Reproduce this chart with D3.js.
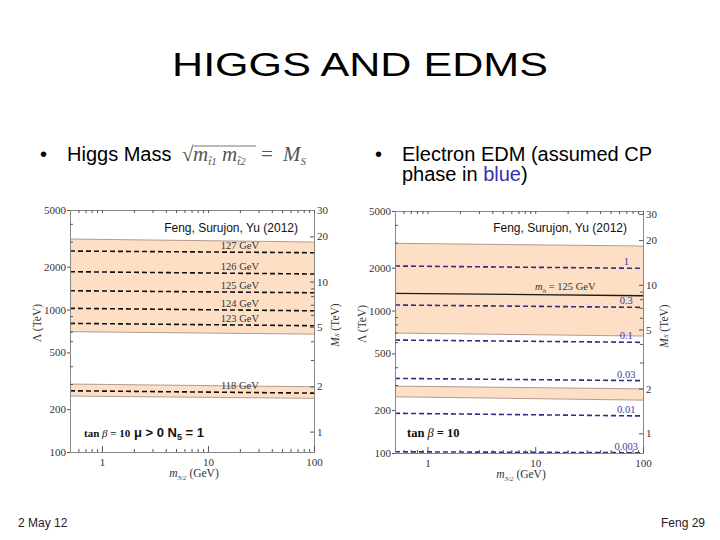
<!DOCTYPE html>
<html>
<head>
<meta charset="utf-8">
<script src="https://cdn.jsdelivr.net/npm/d3@7"></script>
<style>
  body { margin: 0; background: #fff; }
  svg { display: block; }
</style>
</head>
<body>
<div id="slide"></div>
<script>
// ---- values ----
const xDomain = [0.5, 100];              // m_3/2 (GeV)
const xTicks = [1, 10, 100];
const xMinor = [0.6, 0.7, 0.8, 0.9, 2, 3, 4, 5, 6, 7, 8, 9, 20, 30, 40, 50, 60, 70, 80, 90];
const lambdaDomain = [100, 5000];        // Lambda (TeV)
const lambdaTicks = [100, 200, 500, 1000, 2000, 5000];
const lambdaMinor = [300, 400, 600, 700, 800, 900, 3000, 4000];
const msTicks = [1, 2, 5, 10, 20, 30];   // M_S (TeV)
const msMinor = [3, 4, 6, 7, 8, 9];

// bands: [top @ m=0.5, top @ m=100, bottom @ m=0.5, bottom @ m=100]
const higgsBands = [[3128, 2981, 699, 672], [300, 287, 247, 238]];
const higgsNames = ['127 GeV', '126 GeV', '125 GeV', '124 GeV', '123 GeV', '118 GeV'];
const higgsStart = [2576, 1844, 1356, 1020, 800, 269];
const higgsEnd = [2506, 1777, 1312, 980, 770, 259];

const edmBands = [[2966, 2839, 695, 662], [295, 282, 248, 235]];
const edmNames = ['1', '0.3', '0.1', '0.03', '0.01', '0.003'];
const edmStart = [2055, 1094, 621, 334, 190, 102];
const edmEnd = [1979, 1053, 598, 322, 182, 100.4];
const mh125 = [1321, 1272];

const W = 720, H = 540;
const serif = '"Liberation Serif", "Times New Roman", serif';
const sans = '"Liberation Sans", Arial, sans-serif';

const svg = d3.select('#slide').append('svg')
  .attr('width', W)
  .attr('height', H);

// value on a straight log-log line between the two plot edges
function along(a, b, m) {
  let t = Math.log(m / xDomain[0]) / Math.log(xDomain[1] / xDomain[0]);
  return Math.exp(Math.log(a) + (Math.log(b) - Math.log(a)) * t);
}

function drawPanel(cfg) {
  let g = svg.append('g');

  let x = d3.scaleLog().domain(xDomain).range([cfg.left, cfg.right]);
  let y = d3.scaleLog().domain(lambdaDomain).range([cfg.bottom, cfg.top]);
  let ms = d3.scaleLog().domain(cfg.msDomain).range([cfg.bottom, cfg.top]);

  let line = d3.line().x(d => x(d[0])).y(d => y(d[1]));

  // shaded bands
  cfg.bands.forEach(b => {
    let pts = [[xDomain[0], b[0]], [xDomain[1], b[1]], [xDomain[1], b[3]], [xDomain[0], b[2]]];
    g.append('path')
      .attr('d', line(pts) + 'Z')
      .attr('fill', '#fddfc6');
    [[b[0], b[1]], [b[2], b[3]]].forEach(e => {
      g.append('path')
        .attr('d', line([[xDomain[0], e[0]], [xDomain[1], e[1]]]))
        .attr('fill', 'none')
        .attr('stroke', '#8a6a62')
        .attr('stroke-width', 0.8)
        .attr('opacity', 0.8);
    });
  });

  // contours
  cfg.names.forEach((name, i) => {
    g.append('path')
      .attr('d', line([[xDomain[0], cfg.start[i]], [xDomain[1], cfg.end[i]]]))
      .attr('fill', 'none')
      .attr('stroke', cfg.lineColor)
      .attr('stroke-width', 1.6)
      .attr('stroke-dasharray', '5,3');
    g.append('text')
      .attr('x', x(cfg.labelM))
      .attr('y', y(along(cfg.start[i], cfg.end[i], cfg.labelM)) - 3)
      .attr('text-anchor', 'middle')
      .style('font-family', serif)
      .style('font-size', '10.5px')
      .attr('fill', cfg.labelColor)
      .text(name);
  });

  if (cfg.solid) {
    g.append('path')
      .attr('d', line([[xDomain[0], cfg.solid[0]], [xDomain[1], cfg.solid[1]]]))
      .attr('fill', 'none')
      .attr('stroke', '#1a1a1a')
      .attr('stroke-width', 1.4);
    let t = g.append('text')
      .attr('x', x(19))
      .attr('y', y(along(cfg.solid[0], cfg.solid[1], 19)) - 5)
      .attr('text-anchor', 'middle')
      .style('font-family', serif)
      .style('font-size', '10.5px')
      .attr('fill', '#333');
    t.append('tspan').style('font-style', 'italic').text('m');
    t.append('tspan').attr('dy', 3).style('font-size', '7px').style('font-style', 'italic').text('h');
    t.append('tspan').attr('dy', -3).text(' = 125 GeV');
  }

  // frame + axes
  let axisColor = '#888';
  let left = g.append('g').attr('transform', `translate(${cfg.left},0)`)
    .call(d3.axisLeft(y).tickValues(lambdaTicks).tickFormat(d3.format('d')).tickSize(3).tickSizeOuter(0).tickPadding(1));
  g.append('g').attr('transform', `translate(${cfg.left},0)`)
    .call(d3.axisRight(y).tickValues(lambdaMinor).tickFormat('').tickSize(3).tickSizeOuter(0));
  let right = g.append('g').attr('transform', `translate(${cfg.right},0)`)
    .call(d3.axisRight(ms).tickValues(msTicks).tickFormat(d3.format('d')).tickSize(-4).tickSizeOuter(0).tickPadding(3));
  g.append('g').attr('transform', `translate(${cfg.right},0)`)
    .call(d3.axisLeft(ms).tickValues(msMinor).tickFormat('').tickSize(3).tickSizeOuter(0));
  let bottom = g.append('g').attr('transform', `translate(0,${cfg.bottom})`)
    .call(d3.axisBottom(x).tickValues(xTicks).tickFormat(d3.format('d')).tickSize(-6).tickSizeOuter(0).tickPadding(6));
  g.append('g').attr('transform', `translate(0,${cfg.bottom})`)
    .call(d3.axisTop(x).tickValues(xMinor).tickFormat('').tickSize(3).tickSizeOuter(0));
  g.append('g').attr('transform', `translate(0,${cfg.top})`)
    .call(d3.axisBottom(x).tickValues(xTicks.concat(xMinor)).tickFormat('').tickSize(3).tickSizeOuter(0));

  g.selectAll('.domain').attr('stroke', axisColor);
  g.selectAll('.tick line').attr('stroke', '#555');
  [left, right, bottom].forEach(a => a.selectAll('text')
    .style('font-family', serif)
    .style('font-size', '11px')
    .attr('fill', '#333'));

  // axis titles
  g.append('text')
    .attr('transform', `translate(${cfg.left - 29},${(cfg.top + cfg.bottom) / 2 - 8}) rotate(-90)`)
    .attr('text-anchor', 'middle')
    .style('font-family', serif)
    .style('font-size', '11.5px')
    .attr('fill', '#333')
    .text('\u039B (TeV)');

  let rt = g.append('text')
    .attr('transform', `translate(${cfg.right + 17},${(cfg.top + cfg.bottom) / 2 - 6}) rotate(-90)`)
    .attr('text-anchor', 'middle')
    .attr('dominant-baseline', 'hanging')
    .style('font-family', serif)
    .style('font-size', '11.5px')
    .attr('fill', '#333');
  rt.append('tspan').style('font-style', 'italic').text('M');
  rt.append('tspan').attr('dy', 3).style('font-size', '7px').style('font-style', 'italic').text('S');
  rt.append('tspan').attr('dy', -3).text(' (TeV)');

  let bt = g.append('text')
    .attr('x', (cfg.left + cfg.right) / 2 + 2)
    .attr('y', cfg.bottom + 25)
    .attr('text-anchor', 'middle')
    .style('font-family', serif)
    .style('font-size', '11.5px')
    .attr('fill', '#333');
  bt.append('tspan').style('font-style', 'italic').text('m');
  bt.append('tspan').attr('dy', 3).style('font-size', '7px').style('font-style', 'italic').text('3/2');
  bt.append('tspan').attr('dy', -3).text(' (GeV)');

  // annotations
  g.append('text')
    .attr('x', cfg.right - 16)
    .attr('y', 232)
    .attr('text-anchor', 'end')
    .style('font-family', sans)
    .style('font-size', '12px')
    .attr('fill', '#111')
    .text('Feng, Surujon, Yu (2012)');

  let tb = g.append('text')
    .attr('x', cfg.left + cfg.tanDx)
    .attr('y', 437)
    .attr('fill', '#111');
  tb.append('tspan').style('font-family', serif).style('font-weight', 'bold').style('font-size', cfg.tanSize)
    .text('tan ');
  tb.append('tspan').style('font-family', serif).style('font-style', 'italic').style('font-size', cfg.tanSize)
    .text('\u03B2');
  tb.append('tspan').style('font-family', serif).style('font-weight', 'bold').style('font-size', cfg.tanSize)
    .text(' = 10');
  if (cfg.extra) {
    tb.append('tspan').style('font-family', sans).style('font-weight', 'bold').style('font-size', '13px')
      .text('  \u03BC > 0  N');
    tb.append('tspan').attr('dy', 3).style('font-family', sans).style('font-weight', 'bold').style('font-size', '9px')
      .text('5');
    tb.append('tspan').attr('dy', -3).style('font-family', sans).style('font-weight', 'bold').style('font-size', '13px')
      .text(' = 1');
  }
}

drawPanel({
  left: 70, right: 314, top: 210, bottom: 452,
  msDomain: [0.731, 30],
  bands: higgsBands,
  names: higgsNames, start: higgsStart, end: higgsEnd,
  lineColor: '#111', labelColor: '#333', labelM: 20,
  tanDx: 14, tanSize: '11px', extra: true
});

drawPanel({
  left: 395, right: 643, top: 211, bottom: 453,
  msDomain: [0.737, 31.4],
  bands: edmBands,
  names: edmNames, start: edmStart, end: edmEnd,
  lineColor: '#2e2e8c', labelColor: '#3a3aaa', labelM: 70,
  solid: mh125,
  tanDx: 12, tanSize: '12.5px', extra: false
});

// ---- slide text ----
svg.append('text')
  .attr('x', 360)
  .attr('y', 76)
  .attr('text-anchor', 'middle')
  .attr('textLength', 376)
  .attr('lengthAdjust', 'spacingAndGlyphs')
  .style('font-family', sans)
  .style('font-size', '33px')
  .attr('fill', '#000')
  .text('HIGGS AND EDMS');

function bullet(xb, yb) {
  svg.append('text').attr('x', xb).attr('y', yb)
    .style('font-family', sans).style('font-size', '20px').text('\u2022');
}

bullet(40, 161);
svg.append('text')
  .attr('x', 67).attr('y', 161)
  .style('font-family', sans).style('font-size', '20px')
  .text('Higgs Mass');

// formula sqrt(m_t1 m_t2) = M_S
let f = svg.append('text')
  .attr('y', 161)
  .style('font-family', serif).style('font-size', '21px')
  .attr('fill', '#555');
f.append('tspan').attr('x', 182).text('\u221A');
f.append('tspan').attr('x', 193).style('font-style', 'italic').text('m');
f.append('tspan').attr('dy', 4).style('font-size', '11px').style('font-style', 'italic').text('t\u03031');
f.append('tspan').attr('x', 222).attr('dy', -4).style('font-style', 'italic').text('m');
f.append('tspan').attr('dy', 4).style('font-size', '11px').style('font-style', 'italic').text('t\u03032');
f.append('tspan').attr('x', 261).attr('dy', -4).text('=');
f.append('tspan').attr('x', 283).style('font-style', 'italic').text('M');
f.append('tspan').attr('dy', 4).style('font-size', '11px').style('font-style', 'italic').text('S');
svg.append('line')
  .attr('x1', 194).attr('x2', 256)
  .attr('y1', 146).attr('y2', 146)
  .attr('stroke', '#666').attr('stroke-width', 0.9);

bullet(375, 161);
svg.append('text')
  .attr('x', 402).attr('y', 161)
  .style('font-family', sans).style('font-size', '20px')
  .text('Electron EDM (assumed CP');
let l2 = svg.append('text')
  .attr('x', 402).attr('y', 181)
  .style('font-family', sans).style('font-size', '20px');
l2.append('tspan').text('phase in ');
l2.append('tspan').attr('fill', '#3333a8').text('blue');
l2.append('tspan').text(')');

// footer
svg.append('text')
  .attr('x', 18).attr('y', 527)
  .style('font-family', sans).style('font-size', '12px').attr('fill', '#222')
  .text('2 May 12');
svg.append('text')
  .attr('x', 705).attr('y', 527)
  .attr('text-anchor', 'end')
  .style('font-family', sans).style('font-size', '12px').attr('fill', '#222')
  .text('Feng 29');
</script>
</body>
</html>
